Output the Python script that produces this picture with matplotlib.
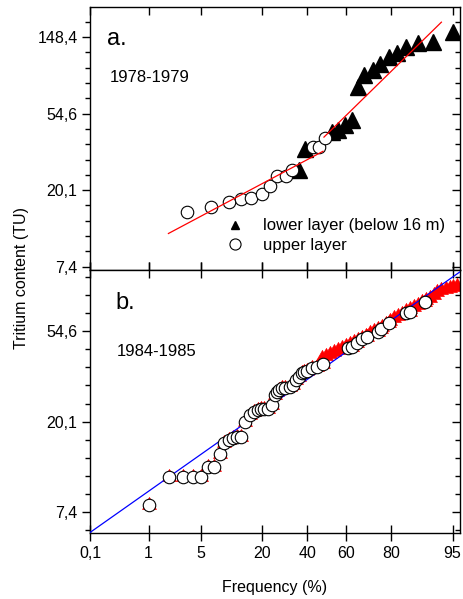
import numpy as np
import matplotlib
matplotlib.use('Agg')
import matplotlib.pyplot as plt
from matplotlib.lines import Line2D
from matplotlib.ticker import FixedLocator, FixedFormatter, NullFormatter
from statistics import NormalDist

plt.rcParams['font.family'] = ['Liberation Sans', 'DejaVu Sans']

# --- panel a (1978-1979) ---
up_a_freq = [3.4, 6.6, 10.0, 13.2, 16.2, 19.9, 23.1, 26.0, 29.7, 32.7, 43.1, 46.2, 49.2]
up_a_tu = [15.1, 16.2, 17.2, 18.0, 18.2, 19.2, 21.2, 24.2, 24.2, 26.3, 35.4, 35.4, 39.5]
low_a_freq = [36.1, 38.9, 52.6, 56.0, 59.4, 62.8, 65.7, 68.7, 72.8, 75.9,
              79.3, 82.1, 85.1, 88.4, 91.8, 95.0]
low_a_tu = [26.1, 34.6, 42.7, 44.0, 47.0, 50.1, 76.9, 90.3, 96.4, 103.9,
            114.7, 120.9, 130.8, 136.7, 139.6, 159.0]
fit1_freq = [1.94, 48.1]
fit1_tu = [11.4, 33.4]
fit2_freq = [48.6, 93.3]
fit2_tu = [40.2, 180.6]

# --- panel b (1984-1985) ---
up_b_freq = [1.0, 2.0, 3.0, 4.0, 5.0, 6.0, 7.0, 8.1, 9.1, 10.2, 11.1, 12.2, 13.2,
             14.2, 15.9, 17.3, 18.4, 19.6, 20.7, 22.1, 23.7, 24.8, 25.8, 26.8,
             27.9, 29.4, 31.7, 32.9, 34.5, 35.9, 37.3, 38.4, 40.1, 42.3, 44.9,
             48.0, 61.1, 62.8, 65.2, 67.6, 69.9, 74.9, 76.3, 79.2, 85.1, 86.1, 90.0]
up_b_tu = [7.98, 10.9, 10.9, 10.9, 10.9, 12.1, 12.1, 14.0, 15.9, 16.4, 16.8, 17.0,
           17.0, 20.0, 21.6, 22.3, 22.8, 23.1, 23.2, 23.2, 24.1, 26.9, 27.9, 28.4,
           29.0, 29.0, 29.5, 30.1, 31.8, 33.0, 34.2, 34.8, 35.2, 36.2, 36.8,
           37.9, 45.1, 45.9, 47.7, 49.8, 51.3, 54.2, 55.6, 59.4, 66.8, 67.6, 75.0]
low_b_freq = [47.6, 49.7, 51.8, 53.8, 55.9, 57.9, 59.9, 61.9, 63.9, 65.8, 67.7,
              69.6, 71.4, 73.1, 74.8, 76.5, 78.0, 79.5, 81.0, 82.4, 83.7, 84.9,
              86.1, 87.2, 88.3, 89.3, 90.2, 91.1, 91.9, 92.6, 93.3, 94.0, 94.6,
              95.1, 95.6]
low_b_tu = [40.5, 41.4, 42.3, 43.3, 44.3, 45.2, 46.2, 47.3, 48.3, 49.4, 50.5,
            51.7, 53.4, 54.6, 55.8, 57.1, 59.0, 61.0, 63.0, 64.5, 65.9, 68.1,
            69.6, 71.2, 72.8, 75.2, 76.9, 78.6, 81.3, 84.0, 85.9, 86.8, 87.8,
            88.8, 89.8]
fitb_freq = [0.1, 95.9]
fitb_tu = [5.9, 105.0]

xticks = [0.1, 1, 5, 20, 40, 60, 80, 95]
xlabels = ['0,1', '1', '5', '20', '40', '60', '80', '95']
yticks_a = [7.389, 20.09, 54.6, 148.4]
ylabels_a = ['7,4', '20,1', '54,6', '148,4']
yticks_b = [7.389, 20.09, 54.6]
ylabels_b = ['7,4', '20,1', '54,6']

nd = NormalDist()
_ppf = np.vectorize(nd.inv_cdf, otypes=[float])
_cdf = np.vectorize(nd.cdf, otypes=[float])


def fwd(p):
    p = np.clip(np.asarray(p, dtype=float) / 100.0, 1e-7, 1 - 1e-7)
    return _ppf(p)


def inv(z):
    return 100.0 * _cdf(np.asarray(z, dtype=float))


# triangle centred on its centroid (like the original software draws it)
tri = [(0, 1), (-0.866, -0.5), (0.866, -0.5), (0, 1)]

fig = plt.figure(figsize=(4.64, 5.99), dpi=100)
ax_a = fig.add_axes([0.194, 0.549, 0.797, 0.439])
ax_b = fig.add_axes([0.194, 0.110, 0.797, 0.439])


def style(ax, ylim, yt, yl):
    ax.set_xscale('function', functions=(fwd, inv))
    ax.set_yscale('log', base=np.e)
    ax.set_xlim(0.1, 95.9)
    ax.set_ylim(*ylim)
    ax.xaxis.set_major_locator(FixedLocator(xticks))
    ax.xaxis.set_major_formatter(FixedFormatter(xlabels))
    ax.xaxis.set_minor_locator(FixedLocator([]))
    ax.yaxis.set_major_locator(FixedLocator(yt))
    ax.yaxis.set_major_formatter(FixedFormatter(yl))
    lo, hi = np.log(ylim[0]), np.log(ylim[1])
    minors = [np.exp(v) for v in np.arange(1.0, 6.01, 0.2)
              if lo <= v <= hi and abs(v - round(v)) > 1e-6]
    ax.yaxis.set_minor_locator(FixedLocator(minors))
    ax.yaxis.set_minor_formatter(NullFormatter())
    ax.tick_params(axis='y', which='both', left=True, right=True,
                   direction='out', labelsize=11.5, pad=3)
    ax.tick_params(axis='y', which='major', length=6, width=1)
    ax.tick_params(axis='y', which='minor', length=3.5, width=1)
    ax.tick_params(axis='x', which='major', top=True, bottom=True,
                   direction='in', length=6, width=1, labelsize=11.5)
    for s in ax.spines.values():
        s.set_linewidth(1.0)
    # right-hand ticks point inward
    for t in ax.yaxis.get_major_ticks() + ax.yaxis.get_minor_ticks():
        t.tick2line.set_marker(matplotlib.markers.TICKLEFT)


style(ax_a, (7.06, 219.7), yticks_a, ylabels_a)
style(ax_b, (5.86, 107.1), yticks_b, ylabels_b)
ax_a.tick_params(axis='x', labelbottom=False)
ax_b.tick_params(axis='x', which='major', direction='inout', length=12, pad=3)

# panel a
ax_a.plot(low_a_freq, low_a_tu, '^', color='black', ms=11, zorder=3)
ax_a.plot(up_a_freq, up_a_tu, 'o', mfc='white', mec='black', mew=0.8,
          ms=9, zorder=3)
ax_a.plot(fit1_freq, fit1_tu, color='red', lw=0.9, zorder=4)
ax_a.plot(fit2_freq, fit2_tu, color='red', lw=0.9, zorder=4)
ax_a.text(0.045, 0.857, 'a.', transform=ax_a.transAxes, fontsize=17)
ax_a.text(0.054, 0.716, '1978-1979', transform=ax_a.transAxes, fontsize=12)
handles = [Line2D([], [], ls='none', marker='^', color='black', ms=6),
           Line2D([], [], ls='none', marker='o', mfc='white', mec='black',
                  mew=0.8, ms=8)]
ax_a.legend(handles, ['lower layer (below 16 m)', 'upper layer'],
            loc='lower left', bbox_to_anchor=(0.335, 0.035), frameon=False,
            fontsize=12, handletextpad=0.95, labelspacing=0.25,
            borderpad=0, handlelength=1.5)

# panel b
ax_b.plot(low_b_freq + up_b_freq, low_b_tu + up_b_tu, ls='none', marker=tri,
          color='red', mec='red', mew=0.5, ms=11.5, zorder=2)
ax_b.plot(fitb_freq, fitb_tu, color='blue', lw=0.9, zorder=3)
ax_b.plot(up_b_freq, up_b_tu, 'o', mfc='white', mec='black', mew=0.8,
          ms=9, zorder=4)
ax_b.text(0.068, 0.854, 'b.', transform=ax_b.transAxes, fontsize=17)
ax_b.text(0.072, 0.674, '1984-1985', transform=ax_b.transAxes, fontsize=12)
ax_b.set_xlabel('Frequency (%)', fontsize=11.5, labelpad=14)

fig.text(0.047, 0.536, 'Tritium content (TU)', rotation=90, fontsize=11.5,
         ha='center', va='center')

fig.savefig('out.png', dpi=100)
